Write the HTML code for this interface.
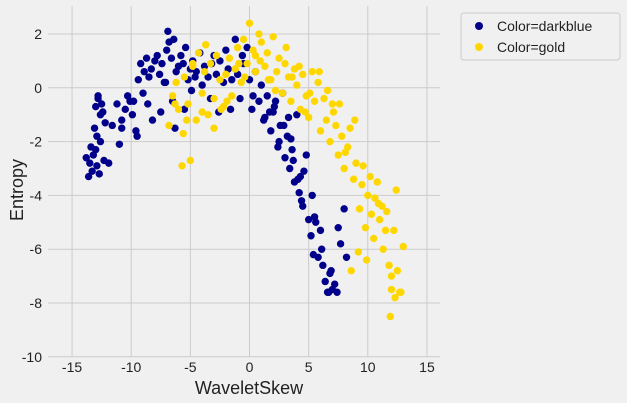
<!DOCTYPE html>
<html><head><meta charset="utf-8">
<style>
html,body{margin:0;padding:0;overflow:hidden;background:#f0f0f0;font-family:"Liberation Sans",sans-serif;width:627px;height:403px;}
svg{display:block;}
svg text{font-family:"Liberation Sans",sans-serif;fill:#222;}
</style></head>
<body>
<svg id="chart" width="627" height="403">
<rect x="0" y="0" width="627" height="403" fill="#f0f0f0"/>
<g id="grid"></g>
<g id="xticks"></g>
<g id="yticks"></g>
<g id="points"></g>
<text x="249" y="394" font-size="18" text-anchor="middle">WaveletSkew</text>
<text x="23" y="190" font-size="18" text-anchor="middle" transform="rotate(-90 23 190)">Entropy</text>
<g>
<rect x="461" y="13" width="159" height="47" rx="3" fill="#f0f0f0" stroke="#cccccc"/>
<circle cx="479" cy="26" r="4" fill="#00008b"/>
<text x="497" y="31" font-size="14">Color=darkblue</text>
<circle cx="479" cy="47" r="4" fill="#ffd700"/>
<text x="497" y="52" font-size="14">Color=gold</text>
</g>
</svg>
<script>
const xTicks=[-15,-10,-5,0,5,10,15];
const yTicks=[2,0,-2,-4,-6,-8,-10];
const blueX=[-13.8,-13.6,-13.5,-13.4,-13.3,-13.2,-13.1,-13.0,-12.9,-12.8,-12.7,-12.6,-12.5,-12.3,-12.2,-13.0,-12.9,-12.8,-12.6,-12.4,-11.9,-11.6,-11.2,-11.0,-10.8,-10.5,-10.3,-10.1,-9.9,-9.6,-9.4,-9.2,-9.0,-8.9,-8.7,-8.5,-8.3,-8.0,-7.8,-7.6,-7.4,-7.2,-7.0,-6.8,-6.6,-6.4,-6.2,-6.0,-5.8,-5.6,-5.4,-5.2,-5.0,-4.8,-4.5,-4.2,-4.0,-3.8,-3.5,-3.2,-3.0,-2.8,-2.5,-2.2,-2.0,-1.8,-1.5,-1.2,-1.0,-0.8,-0.5,-0.2,0.0,0.2,0.5,0.8,1.0,1.2,1.5,1.8,2.0,2.2,2.4,2.6,2.8,3.0,3.2,3.4,3.6,3.8,4.0,4.2,4.4,4.6,4.8,5.0,5.2,5.4,5.6,5.8,6.0,6.2,6.4,6.6,6.8,7.0,7.2,7.4,7.7,8.0,-9.5,-8.2,-7.5,-6.5,-6.9,-5.5,-4.6,-3.3,-1.6,0.3,1.3,2.1,2.9,3.3,3.7,4.1,4.5,5.3,6.1,6.7,7.5,-10.8,-9.8,-8.6,-7.1,-6.3,-4.9,-2.6,-0.6,1.7,2.5,3.5,4.3,5.5,6.9,8.2];
const blueY=[-2.6,-3.3,-2.8,-2.2,-3.1,-2.5,-1.5,-0.7,-2.9,-0.3,-3.2,-1.0,-0.6,-2.7,-1.3,-2.3,-1.8,-0.4,-2.0,-0.9,-2.8,-1.4,-0.6,-2.1,-1.2,-0.8,-0.3,-0.5,-1.0,-1.6,0.3,0.9,-0.2,0.6,1.1,0.4,0.7,1.0,1.2,0.5,0.9,0.2,1.4,1.7,1.1,1.8,0.6,0.8,1.2,0.9,1.5,0.3,0.7,1.0,0.6,1.3,0.1,0.8,0.4,0.9,1.2,0.5,1.0,0.2,1.4,0.7,0.3,1.8,0.5,-0.4,0.9,1.5,0.3,-0.8,0.6,-0.5,0.1,-1.2,-0.3,-1.6,-0.9,-0.5,-2.2,-1.4,-0.2,-2.6,-1.8,-3.0,-2.3,-3.5,-1.0,-3.9,-4.2,-3.1,-2.5,-4.9,-5.5,-6.2,-5.0,-6.3,-5.3,-6.6,-7.2,-7.6,-6.9,-7.5,-7.3,-7.6,-5.8,-4.5,-1.8,-1.2,-0.9,-0.5,2.1,-0.8,0.4,-0.4,-0.8,-0.3,-1.1,-0.7,-1.4,-1.1,-2.7,-3.4,-4.4,-4.0,-6.0,-7.6,-5.2,-1.5,-0.5,-0.6,0.2,-1.5,-0.1,-0.9,1.2,-0.9,-2.0,-1.9,-3.3,-4.8,-6.8,-6.3];
const goldX=[-6.8,-6.5,-6.2,-6.0,-5.7,-5.5,-5.2,-5.0,-4.8,-4.5,-4.3,-4.0,-3.8,-3.5,-3.3,-3.0,-2.8,-2.5,-2.2,-2.0,-1.7,-1.5,-1.2,-1.0,-0.7,-0.5,-0.2,0.0,0.3,0.5,0.8,1.0,1.3,1.5,1.8,2.0,2.3,2.5,2.8,3.0,3.3,3.5,3.8,4.0,4.3,4.5,4.8,5.0,5.3,5.5,5.8,6.0,6.3,6.5,6.8,7.0,7.3,7.5,7.8,8.0,8.3,8.5,8.8,9.0,9.3,9.5,9.8,10.0,10.3,10.5,10.8,11.0,11.3,11.5,11.8,12.0,12.3,12.5,12.8,13.0,-5.6,-4.8,-4.0,-3.0,-1.9,-0.4,0.9,2.2,3.6,4.7,5.9,7.1,8.1,8.9,9.6,10.2,10.9,11.6,12.2,12.7,-6.3,-5.3,-3.7,-2.4,-0.9,0.5,1.6,3.1,4.2,5.1,6.6,7.6,8.6,9.2,9.9,10.6,11.2,12.0,11.9,12.4];
const goldY=[-1.4,-0.3,0.2,-0.8,-2.9,0.4,-0.6,-2.7,0.8,-1.2,1.3,-0.2,0.6,-1.0,0.9,-0.4,1.2,0.3,-0.7,0.5,1.1,-0.3,0.7,1.5,0.2,1.8,0.9,2.4,1.4,0.6,2.0,1.7,0.8,1.3,0.3,1.9,0.6,1.1,-0.2,0.9,0.4,-0.5,0.7,0.1,-0.8,0.5,-0.3,-1.1,0.6,-0.5,0.2,-1.6,-0.4,-1.2,-2.0,-0.6,-1.4,-2.5,-1.8,-3.0,-2.2,-1.5,-3.4,-2.8,-4.5,-3.6,-5.2,-4.0,-4.7,-5.6,-3.5,-4.9,-6.0,-5.3,-6.6,-7.0,-7.8,-6.8,-7.6,-5.9,-1.7,0.9,-0.9,-1.5,-0.5,0.4,1.0,-0.1,0.4,-0.9,0.6,-0.9,-2.4,-1.2,-2.9,-3.3,-4.3,-4.6,-5.3,-7.6,-0.6,-1.2,1.6,-0.8,0.9,1.2,0.3,1.5,0.8,-0.2,-0.1,-0.6,-6.8,-6.1,-6.4,-4.1,-4.4,-7.5,-8.5,-3.8];
const PL=48,PR=440,PT=6,PB=357;
const sx=v=>249.5+v*11.83;
const sy=v=>87.8-v*26.9;
const NS="http://www.w3.org/2000/svg";
const grid=document.getElementById('grid'),xt=document.getElementById('xticks'),yt=document.getElementById('yticks'),pts=document.getElementById('points');
function mk(t,a,p){const e=document.createElementNS(NS,t);for(const k in a)e.setAttribute(k,a[k]);p.appendChild(e);return e;}
xTicks.forEach(v=>{
 const l=mk('line',{x1:sx(v),x2:sx(v),y1:PT,y2:PB,stroke:'#cbcbcb','stroke-width':1},grid);
 
 
 const t=mk('text',{x:sx(v),y:372,'font-size':14,'text-anchor':'middle'},xt);t.textContent=v;
 
 
});
yTicks.forEach(v=>{
 const l=mk('line',{x1:PL,x2:PR,y1:sy(v),y2:sy(v),stroke:'#cbcbcb','stroke-width':1},grid);
 
 
 const t=mk('text',{x:42,y:sy(v)+5,'font-size':14,'text-anchor':'end'},yt);t.textContent=v;
 
 
});
blueX.forEach((x,i)=>{
 const c=mk('circle',{cx:sx(x),cy:sy(blueY[i]),r:3.7,fill:'#00008b'},pts);
 
 
});
goldX.forEach((x,i)=>{
 const c=mk('circle',{cx:sx(x),cy:sy(goldY[i]),r:3.7,fill:'#ffd700'},pts);
 
 
});
</script>
</body></html>
